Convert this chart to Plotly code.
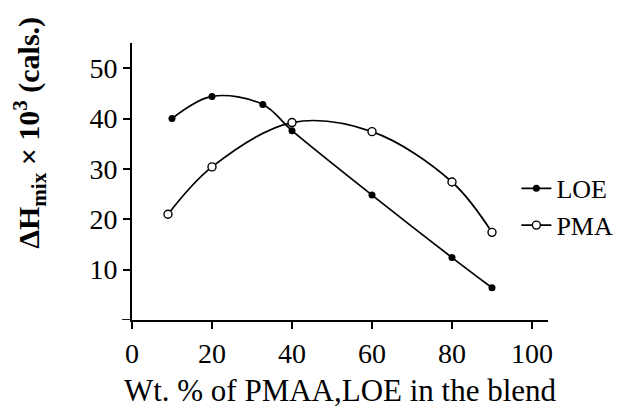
import plotly.graph_objects as go

loe_x = [10, 20, 32.7, 40, 60, 80, 90]
loe_y = [40, 44.4, 42.8, 37.6, 24.8, 12.4, 6.4]
pma_x = [9, 20, 40, 60, 80, 90]
pma_y = [21, 30.4, 39.2, 37.4, 27.4, 17.4]
x_ticks = [0, 20, 40, 60, 80, 100]
y_ticks = [10, 20, 30, 40, 50]
y_title = "<b>ΔH<sub>mix</sub> × 10<sup>3</sup> (cals.)</b>"
x_title = "Wt. % of PMAA,LOE in the blend"

FONT = "Liberation Serif, Times New Roman, serif"

fig = go.Figure()
fig.add_trace(go.Scatter(
    x=loe_x, y=loe_y, name="LOE", mode="lines+markers",
    line=dict(color="black", width=1.7, shape="spline", smoothing=1),
    marker=dict(symbol="circle", size=7, color="black"),
))
fig.add_trace(go.Scatter(
    x=pma_x, y=pma_y, name="PMA", mode="lines+markers",
    line=dict(color="black", width=1.7, shape="spline", smoothing=1),
    marker=dict(symbol="circle", size=8, color="white",
                line=dict(color="black", width=1.4)),
))

# page body has an 8px default margin, so margins are offset to compensate
fig.update_layout(
    width=637, height=416,
    margin=dict(l=124, r=97, t=35, b=104, autoexpand=False),
    paper_bgcolor="white", plot_bgcolor="white",
    font=dict(family=FONT, color="black", size=24),
    showlegend=True,
    legend=dict(x=0.924, y=0.56, xanchor="left", yanchor="top",
                font=dict(size=26, family=FONT), bgcolor="rgba(0,0,0,0)",
                itemwidth=30, tracegroupgap=0),
    xaxis=dict(range=[0, 104], tickvals=x_ticks, ticks="outside", ticklen=7,
               tickwidth=1.5, tickcolor="black", showline=True, linecolor="black",
               linewidth=1.8, showgrid=False, zeroline=False,
               tickfont=dict(size=28, family=FONT),
               title=dict(text=x_title,
                          font=dict(size=31, family=FONT), standoff=12)),
    yaxis=dict(range=[0, 55], tickvals=y_ticks, ticks="outside", ticklen=7,
               tickwidth=1.5, tickcolor="black", showline=True, linecolor="black",
               linewidth=1.8, showgrid=False, zeroline=False,
               tickfont=dict(size=28, family=FONT)),
    annotations=[dict(text=y_title, textangle=-90, xref="paper", yref="paper",
                      x=-0.248, y=0.675, xanchor="center", yanchor="middle",
                      showarrow=False, font=dict(size=30, family=FONT))],
    shapes=[dict(type="line", xref="paper", yref="y", x0=-10 / 416, x1=0,
                 y0=0, y1=0, line=dict(color="black", width=1.8))],
)

fig.write_html("out.html")
